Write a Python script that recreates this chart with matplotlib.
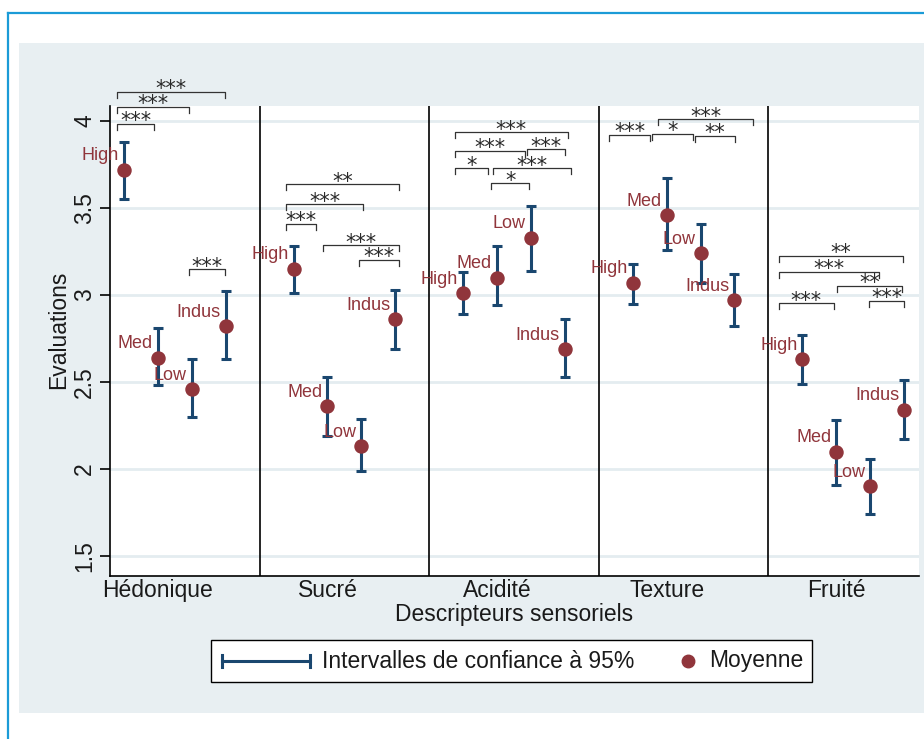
import matplotlib
matplotlib.use('Agg')
import matplotlib.pyplot as plt
from matplotlib.patches import Rectangle
from matplotlib.lines import Line2D

plt.rcParams['font.family'] = ['Liberation Sans', 'DejaVu Sans']

# ---------------- data ----------------
descriptors = ['Hédonique', 'Sucré', 'Acidité', 'Texture', 'Fruité']
groups = ['High', 'Med', 'Low', 'Indus']

mean_hedonique = [3.72, 2.64, 2.46, 2.82]
lo_hedonique = [3.55, 2.48, 2.30, 2.63]
hi_hedonique = [3.88, 2.81, 2.63, 3.02]

mean_sucre = [3.15, 2.36, 2.13, 2.86]
lo_sucre = [3.01, 2.19, 1.99, 2.69]
hi_sucre = [3.28, 2.53, 2.29, 3.03]

mean_acidite = [3.01, 3.10, 3.33, 2.69]
lo_acidite = [2.89, 2.94, 3.14, 2.53]
hi_acidite = [3.13, 3.28, 3.51, 2.86]

mean_texture = [3.07, 3.46, 3.24, 2.97]
lo_texture = [2.95, 3.26, 3.07, 2.82]
hi_texture = [3.18, 3.67, 3.41, 3.12]

mean_fruite = [2.63, 2.10, 1.90, 2.34]
lo_fruite = [2.49, 1.91, 1.74, 2.17]
hi_fruite = [2.77, 2.28, 2.06, 2.51]

means = [mean_hedonique, mean_sucre, mean_acidite, mean_texture, mean_fruite]
lows = [lo_hedonique, lo_sucre, lo_acidite, lo_texture, lo_fruite]
highs = [hi_hedonique, hi_sucre, hi_acidite, hi_texture, hi_fruite]

y_ticks = [1.5, 2, 2.5, 3, 3.5, 4]
y_tick_labels = ['1.5', '2', '2.5', '3', '3.5', '4']

# significance brackets: (x start, x end, y, stars) in data units
brackets = [
    (-0.19, 0.89, 3.983, '***'), (-0.19, 1.93, 4.082, '***'),
    (-0.19, 2.99, 4.168, '***'), (1.93, 2.99, 3.148, '***'),
    (4.78, 5.65, 3.408, '***'), (4.78, 7.06, 3.521, '***'),
    (4.78, 8.11, 3.636, '**'), (5.86, 8.11, 3.287, '***'),
    (6.94, 8.11, 3.201, '***'),
    (9.76, 13.08, 3.935, '***'), (9.76, 11.81, 3.829, '***'),
    (11.88, 12.99, 3.837, '***'), (9.76, 10.73, 3.728, '*'),
    (10.89, 13.19, 3.728, '***'), (10.83, 11.95, 3.642, '*'),
    (14.29, 15.52, 3.920, '***'), (15.58, 16.78, 3.925, '*'),
    (16.84, 18.02, 3.914, '**'), (15.76, 18.55, 4.010, '***'),
    (19.32, 22.96, 3.226, '**'), (19.32, 22.27, 3.134, '***'),
    (21.02, 22.94, 3.052, '**'), (19.32, 20.92, 2.952, '***'),
    (21.96, 23.01, 2.966, '***'),
]

# ---------------- style ----------------
W, H = 924, 739
NAVY = '#1a476f'
MAROON = '#90353b'
PANEL = '#e8eff2'
BLUE = '#1b9bd7'
TXT = '#1a1a1a'
FS = 16.5

fig = plt.figure(figsize=(W / 100, H / 100), dpi=100)
fig.patch.set_facecolor('white')

def fx(px):
    return px / W

def fy(py):
    return 1 - py / H

# outer decorations
fig.add_artist(Rectangle((fx(19), fy(713)), fx(924) - fx(19), fy(43) - fy(713),
                         transform=fig.transFigure, facecolor=PANEL, edgecolor='none', zorder=0))
fig.add_artist(Line2D([fx(8), fx(924)], [fy(13), fy(13)], transform=fig.transFigure,
                      color=BLUE, lw=1.6, zorder=1))
fig.add_artist(Line2D([fx(8), fx(8)], [fy(13), fy(739)], transform=fig.transFigure,
                      color=BLUE, lw=1.6, zorder=1))

ax = fig.add_axes([fx(110), fy(576), fx(919) - fx(110), fy(106) - fy(576)])
ax.set_facecolor('white')
ax.set_xlim(-0.41, 23.44)
ax.set_ylim(1.385, 4.086)

for yt in y_ticks:
    ax.axhline(yt, color='#e4ecf0', lw=2.0, zorder=0)

for g in range(len(descriptors)):
    xs = [5 * g + i for i in range(len(groups))]
    m = means[g]
    lo = [m[i] - lows[g][i] for i in range(4)]
    hi = [highs[g][i] - m[i] for i in range(4)]
    ax.errorbar(xs, m, yerr=[lo, hi], fmt='none', ecolor=NAVY, elinewidth=2.2,
                capsize=3.9, capthick=2.2, zorder=3)
    ax.plot(xs, m, 'o', color=MAROON, markersize=9.4, zorder=4)
    for i, lab in enumerate(groups):
        ax.annotate(lab, (xs[i], m[i]), xytext=(-3.6, 10), textcoords='offset points',
                    ha='right', va='center', color=MAROON, fontsize=13, zorder=5)

for sep in [4, 9, 14, 19]:
    ax.axvline(sep, color='black', lw=1.2, zorder=2)

drop = 0.035
for x1, x2, yb, s in brackets:
    ax.plot([x1, x1, x2, x2], [yb - drop, yb, yb, yb - drop], color='#333333', lw=0.9,
            clip_on=False, zorder=5)
    ax.annotate(s, ((x1 + x2) / 2, yb), xytext=(0, -2.5), textcoords='offset points',
                ha='center', va='baseline', fontsize=15, color='#2a2a2a',
                family='DejaVu Sans', annotation_clip=False, zorder=5)

for side in ['top', 'right']:
    ax.spines[side].set_visible(False)
for side in ['left', 'bottom']:
    ax.spines[side].set_color('black')
    ax.spines[side].set_linewidth(1.2)

ax.set_xticks([5 * g + 1 for g in range(len(descriptors))])
ax.set_xticklabels(descriptors, fontsize=FS, color=TXT)
ax.tick_params(axis='x', length=0, pad=2.5)
ax.set_yticks(y_ticks)
ax.set_yticklabels(y_tick_labels, fontsize=FS, color=TXT, rotation=90, va='center')
ax.tick_params(axis='y', length=7, width=1.2, pad=3)

ax.set_xlabel('Descripteurs sensoriels', fontsize=FS, color=TXT)
ax.xaxis.set_label_coords(0.5, -(603 - 576) / 470)
ax.set_ylabel('Evaluations', fontsize=FS, color=TXT)
ax.yaxis.set_label_coords((70 - 110) / 809, (576 - 330) / 470)

# legend
fig.add_artist(Rectangle((fx(211), fy(682)), fx(812) - fx(211), fy(640) - fy(682),
                         transform=fig.transFigure, facecolor='white', edgecolor='black',
                         lw=1.0, zorder=3))
ly = 661
fig.add_artist(Line2D([fx(222), fx(310)], [fy(ly), fy(ly)], transform=fig.transFigure,
                      color=NAVY, lw=2.2, zorder=4))
for cx in (222, 310):
    fig.add_artist(Line2D([fx(cx), fx(cx)], [fy(ly - 6), fy(ly + 6)], transform=fig.transFigure,
                          color=NAVY, lw=2.2, zorder=4))
fig.text(fx(322), fy(ly), 'Intervalles de confiance à 95%', fontsize=FS, color=TXT,
         ha='left', va='center', zorder=4)
fig.add_artist(Line2D([fx(688)], [fy(ly)], transform=fig.transFigure, marker='o',
                      color=MAROON, markersize=9, linestyle='none', zorder=4))
fig.text(fx(709), fy(ly), 'Moyenne', fontsize=FS, color=TXT, ha='left', va='center', zorder=4)

fig.savefig('out.png', dpi=100, facecolor=fig.get_facecolor())
